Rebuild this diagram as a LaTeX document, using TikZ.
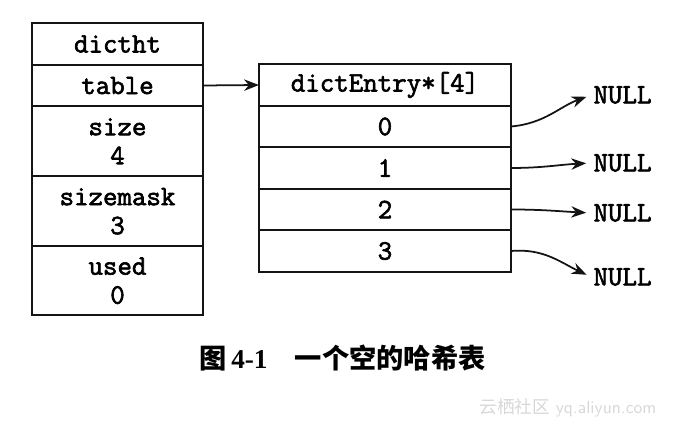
\documentclass[tikz,border=0pt]{standalone}
\usepackage{fontspec}
\setmainfont{Liberation Serif}
\newfontfamily\codefont{Latin Modern Mono}[FakeBold=2.2]
\newfontfamily\cjk{Noto Sans CJK SC}
\usepackage{tikz}
\usetikzlibrary{arrows.meta, positioning}
\definecolor{mydark}{RGB}{20,20,20}
\definecolor{mymark}{RGB}{215,215,215}
\tikzset{
  field/.style={rectangle, draw=mydark, line width=1.3pt,
    minimum width=3.42cm, minimum height=0.83cm, inner sep=0pt, outer sep=0pt,
    align=center, font=\codefont\fontsize{16}{16.5}\selectfont},
  tallfield/.style={field, minimum height=1.4cm},
  slot/.style={field, minimum width=5.04cm},
  nullnode/.style={inner sep=1pt, font=\codefont\fontsize{16}{16}\selectfont},
  ptr/.style={-{Stealth[length=8.5pt, width=6.5pt]}, line width=1pt, color=mydark}
}
\begin{document}
\begin{tikzpicture}
  \useasboundingbox (0,0) rectangle (13.9,-8.64);

  % dictht struct
  \node[field] (dictht) at (2.35,-0.88) {dictht};
  \node[field, below=0pt of dictht] (table) {table};
  \node[tallfield, below=0pt of table] (size) {size\\4};
  \node[tallfield, below=0pt of size] (sizemask) {sizemask\\3};
  \node[tallfield, minimum height=1.38cm, below=0pt of sizemask] (used) {used\\0};

  % dictEntry array
  \node[slot] (head) at (7.7,-1.7) {dictEntry*[4]};
  \node[slot, below=0pt of head] (e0) {0};
  \node[slot, below=0pt of e0] (e1) {1};
  \node[slot, below=0pt of e1] (e2) {2};
  \node[slot, below=0pt of e2] (e3) {3};

  % NULL pointers
  \node[nullnode] (n0) at (12.45,-1.90) {NULL};
  \node[nullnode] (n1) at (12.45,-3.26) {NULL};
  \node[nullnode] (n2) at (12.45,-4.26) {NULL};
  \node[nullnode] (n3) at (12.45,-5.54) {NULL};

  \draw[ptr] (table.east) -- (head.west);
  \draw[ptr, shorten >=3pt] (e0.east) to[out=5, in=200] (n0.west);
  \draw[ptr, shorten >=3pt] (e1.east) to[out=0, in=183] (n1.west);
  \draw[ptr, shorten >=3pt] (e2.east) to[out=0, in=177] (n2.west);
  \draw[ptr, shorten >=3pt] (e3.east) to[out=5, in=155] (n3.west);

  % caption
  \node[font=\bfseries\fontsize{15.5}{18}\selectfont] (caption) at (6.85,-7.16)
    {{\cjk\bfseries 图}\,4-1\quad{\cjk\bfseries 一个空的哈希表}};
  \node[font=\sffamily\fontsize{10}{12}\selectfont, text=mymark] (mark) at (11.36,-8.16)
    {{\cjk 云栖社区} yq.aliyun.com};
\end{tikzpicture}
\end{document}
